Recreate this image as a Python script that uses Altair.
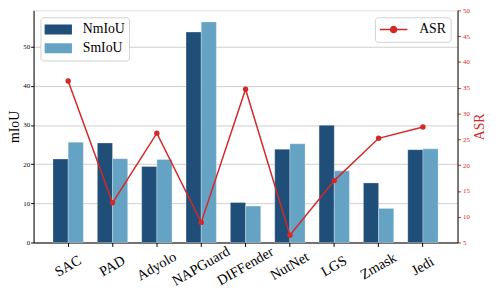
import altair as alt
import pandas as pd

cats = ["SAC", "PAD", "Adyolo", "NAPGuard", "DIFFender", "NutNet", "LGS", "Zmask", "Jedi"]
nmiou = [21.3, 25.4, 19.4, 53.7, 10.2, 23.8, 29.9, 15.2, 23.7]
smiou = [25.6, 21.4, 21.2, 56.3, 9.3, 25.2, 18.3, 8.7, 23.9]
asr = [36.3, 12.7, 26.2, 8.9, 34.7, 6.4, 17.0, 25.2, 27.4]
series = ["NmIoU", "SmIoU"]
left_ticks = [0, 10, 20, 30, 40, 50]
right_ticks = [5, 10, 15, 20, 25, 30, 35, 40, 45, 50]

FONT = "Liberation Serif"
RED = "#d62728"
DARK = "#1f4e79"
LIGHT = "#65a3c5"

df_bar = pd.DataFrame(
    {"cat": cats * 2, "series": [series[0]] * len(cats) + [series[1]] * len(cats), "value": nmiou + smiou}
)
df_line = pd.DataFrame({"cat": cats, "asr": asr, "label": ["ASR"] * len(cats)})

xscale = alt.Scale(paddingInner=0.316, paddingOuter=0.438)
xaxis = alt.Axis(
    title=None, labelAngle=-30, labelFontSize=14.5, labelFont=FONT, labelAlign="center",
    labelBaseline="middle", labelPadding=20, labelColor="black", tickColor="black",
    domainColor="black", tickSize=4,
)

bars = alt.Chart(df_bar).mark_bar(stroke="white", strokeOpacity=0.35, strokeWidth=0.8).encode(
    x=alt.X("cat:N", sort=cats, scale=xscale, axis=xaxis),
    xOffset=alt.XOffset("series:N", sort=series, scale=alt.Scale(paddingInner=0, paddingOuter=0)),
    y=alt.Y(
        "value:Q",
        scale=alt.Scale(domain=[0, 59.25], nice=False, zero=True),
        axis=alt.Axis(
            title="mIoU", values=left_ticks, labelFontSize=7, labelFont=FONT, titleFont=FONT,
            titleFontSize=14, titleFontWeight="normal", grid=True, gridColor="#cfcfcf",
            tickColor="black", domainColor="black", labelColor="black", tickSize=3,
            labelPadding=1, titlePadding=1,
        ),
    ),
    color=alt.Color(
        "series:N",
        sort=series,
        scale=alt.Scale(domain=series, range=[DARK, LIGHT]),
        legend=alt.Legend(
            title=None, orient="top-left", offset=7, labelFont=FONT, labelFontSize=14,
            symbolType="M-1,-0.36H1V0.36H-1Z", symbolSize=784, clipHeight=17,
            symbolStrokeWidth=0, rowPadding=2, labelOffset=11, padding=4,
            fillColor="white", strokeColor="#d0d0d0", cornerRadius=3,
        ),
    ),
)

line = alt.Chart(df_line).mark_line(
    strokeWidth=1.5, point=alt.OverlayMarkDef(filled=True, size=30)
).encode(
    x=alt.X("cat:N", sort=cats, scale=xscale, axis=xaxis),
    y=alt.Y(
        "asr:Q",
        scale=alt.Scale(domain=[5, 50], nice=False, zero=False),
        axis=alt.Axis(
            orient="right", title="ASR", values=right_ticks, labelFontSize=7, labelFont=FONT,
            labelColor=RED, tickColor=RED, domainColor="black", titleColor=RED, titleFont=FONT,
            titleFontSize=14, titleFontWeight="normal", titleAngle=270, titleBaseline="top",
            grid=False, tickSize=3, labelPadding=2, titlePadding=3,
        ),
    ),
    color=alt.Color(
        "label:N",
        scale=alt.Scale(domain=["ASR"], range=[RED]),
        legend=alt.Legend(
            title=None, orient="top-right", offset=7, labelFont=FONT, labelFontSize=14,
            symbolType="M-1,0H1M0.22,0A0.22,0.22,0,1,1,-0.22,0A0.22,0.22,0,1,1,0.22,0Z",
            symbolSize=784, clipHeight=17, symbolStrokeWidth=1.5, symbolFillColor=RED,
            symbolStrokeColor=RED, labelOffset=11, padding=4,
            fillColor="white", strokeColor="#d0d0d0", cornerRadius=3,
        ),
    ),
)

chart = (
    alt.layer(bars, line)
    .resolve_scale(y="independent", color="independent")
    .properties(
        width=431, height=236,
        padding={"left": 26, "top": 0, "right": 33, "bottom": 53},
        autosize=alt.AutoSizeParams(type="none"),
    )
    .configure_view(stroke="black", strokeWidth=1)
    .configure(background="white")
)

chart.save("out.html", embed_options={"renderer": "svg", "actions": False})
